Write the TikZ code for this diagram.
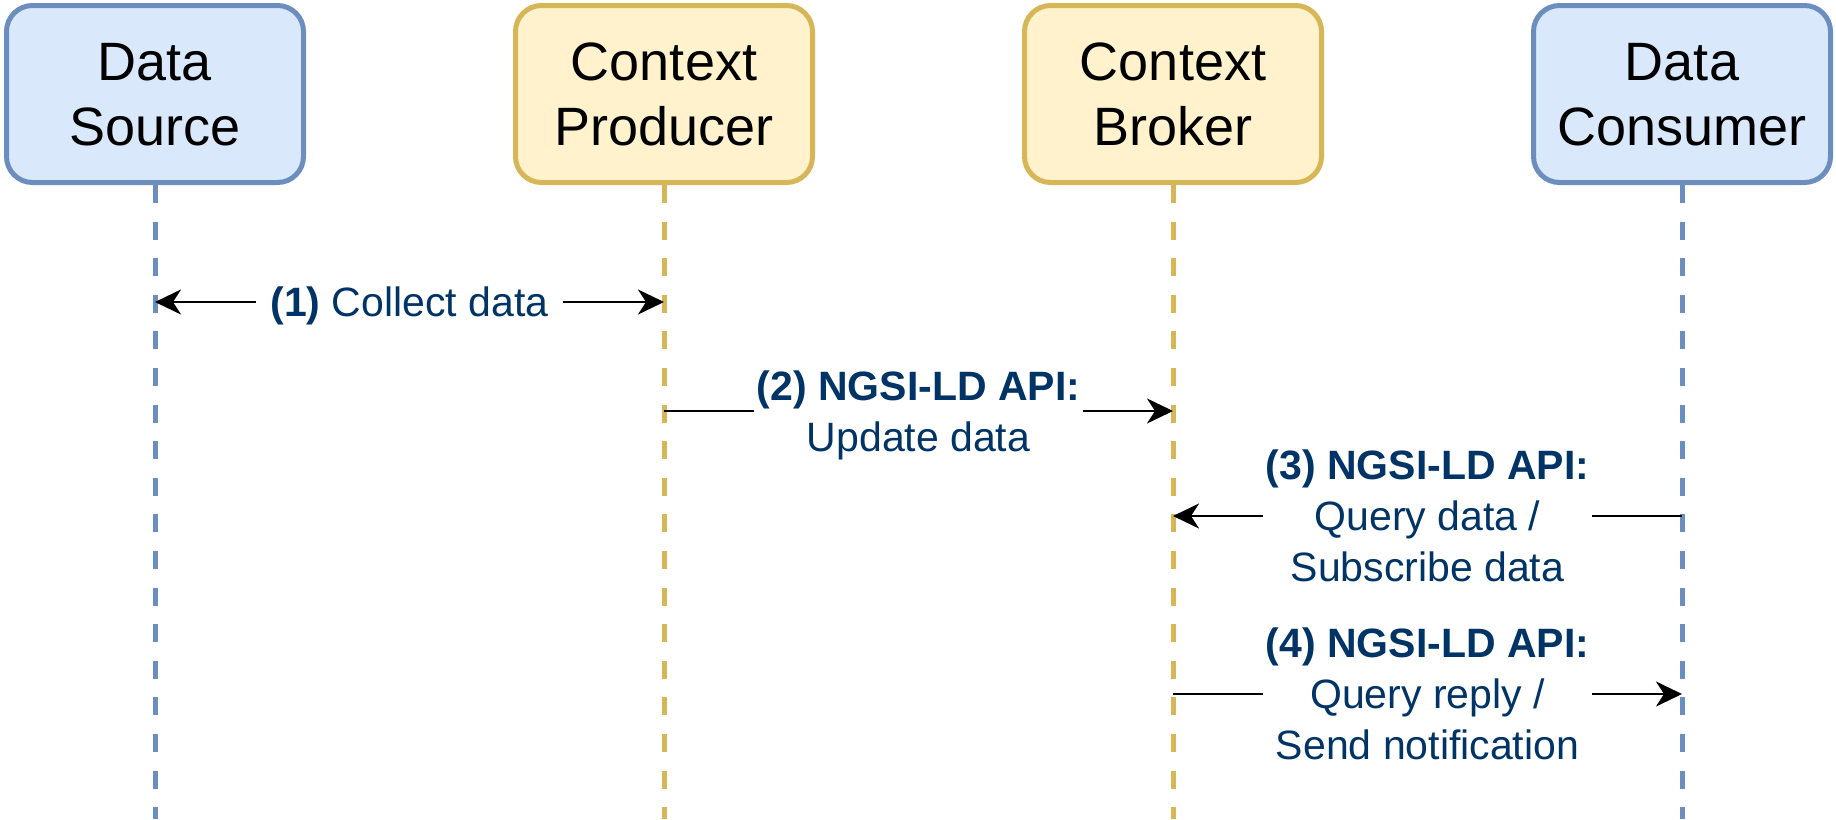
\documentclass[tikz,border=0pt]{standalone}
\usepackage{fontspec}
\setmainfont{Liberation Sans}
\usepackage{xcolor}
\usetikzlibrary{arrows.meta}
\definecolor{bluefill}{HTML}{DAE8FC}
\definecolor{bluedraw}{HTML}{6C8EBF}
\definecolor{yellowfill}{HTML}{FFF2CC}
\definecolor{yellowdraw}{HTML}{D6B656}
\definecolor{labeltext}{HTML}{003366}
\tikzset{
	msgtip/.tip={Stealth[length=13pt,width=12.5pt,inset=4pt]},
	actor/.style={
			draw, line width=2.5pt, rounded corners=13pt,
			minimum width=148.5pt, minimum height=88.5pt,
			align=center, text depth=0pt,
			font=\fontsize{27}{32.5}\selectfont
		},
	bluebox/.style={actor, draw=bluedraw, fill=bluefill},
	yellowbox/.style={actor, draw=yellowdraw, fill=yellowfill},
	lifeline/.style={line width=2.5pt, dash pattern=on 9pt off 9.3pt},
	msg/.style={line width=1.3pt, -msgtip},
	msglabel/.style={
			fill=white, text=labeltext, align=center, text depth=0pt,
			inner xsep=1.5pt, inner ysep=2pt,
			font=\fontsize{20.5}{25.5}\selectfont
		}
}

\begin{document}
\begin{tikzpicture}[x=0.5pt, y=-0.5pt]
			\useasboundingbox (0,0) rectangle (1836,819);

			% Define the participants
			\node[bluebox] (src) at (155,94) {Data\\Source};
			\node[yellowbox] (prod) at (664,94) {Context\\Producer};
			\node[yellowbox] (broker) at (1173,94) {Context\\Broker};
			\node[bluebox] (cons) at (1682,94) {Data\\Consumer};

			% Draw the lifelines
			\foreach \n/\c in {src/bluedraw, prod/yellowdraw, broker/yellowdraw, cons/bluedraw} {
					\coordinate (\n-end) at (\n.south |- 0,819);
					\draw[lifeline, draw=\c] (\n.south) -- (\n-end);
				}

			% Points of the messages on the lifelines
			\coordinate (src-1) at (src.south |- 0,302);
			\coordinate (prod-1) at (prod.south |- 0,302);
			\coordinate (prod-2) at (prod.south |- 0,411);
			\coordinate (broker-2) at (broker.south |- 0,411);
			\coordinate (cons-3) at (cons.south |- 0,516);
			\coordinate (broker-3) at (broker.south |- 0,516);
			\coordinate (broker-4) at (broker.south |- 0,694);
			\coordinate (cons-4) at (cons.south |- 0,694);

			% Draw the messages
			\draw[msg, msgtip-msgtip] (src-1) -- node[msglabel, inner xsep=7pt] {\textbf{(1)} Collect data} (prod-1);
			\draw[msg] (prod-2) -- node[msglabel] {\textbf{(2) NGSI-LD API:}\\Update data} (broker-2);
			\draw[msg] (cons-3) -- node[msglabel] {\textbf{(3) NGSI-LD API:}\\Query data /\\Subscribe data} (broker-3);
			\draw[msg] (broker-4) -- node[msglabel] {\textbf{(4) NGSI-LD API:}\\Query reply /\\Send notification} (cons-4);
		\end{tikzpicture}
\end{document}
